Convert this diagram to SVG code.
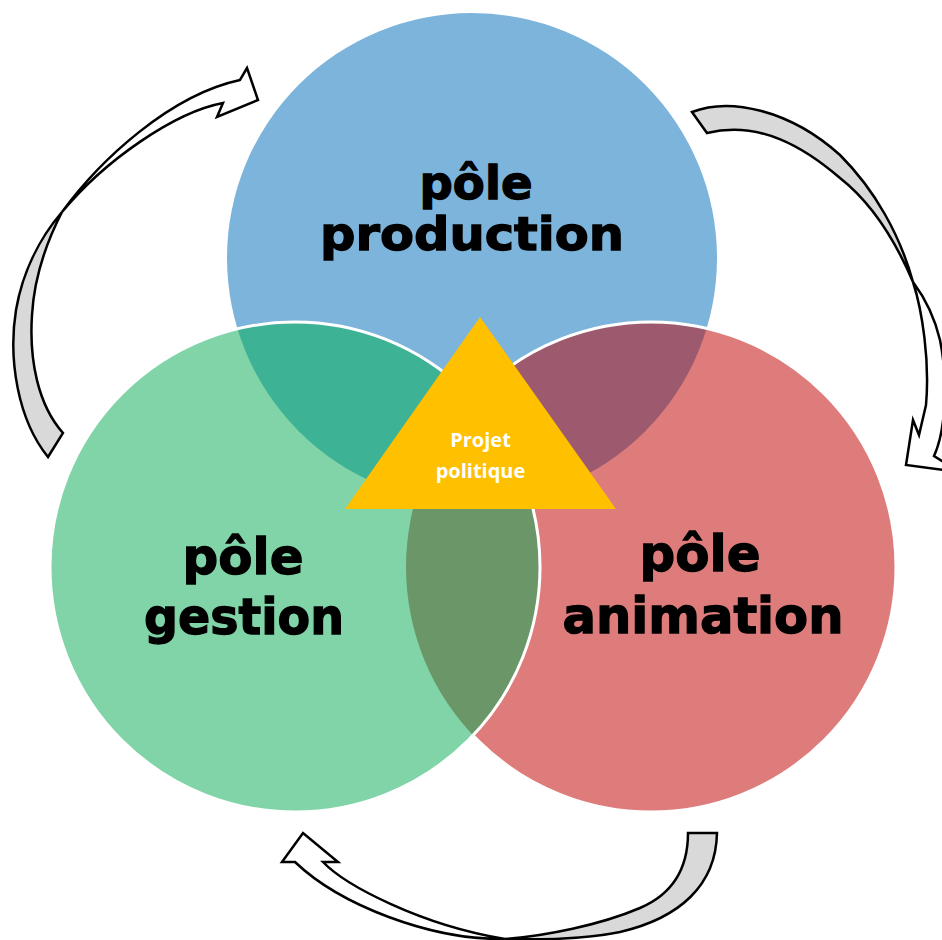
<svg xmlns="http://www.w3.org/2000/svg" width="942" height="940" viewBox="0 0 942 940">
  <style>
    .arrow-gray { fill: #D9D9D9; stroke: #000; stroke-width: 2.5; stroke-linejoin: miter; }
    .arrow-white { fill: #FFFFFF; stroke: #000; stroke-width: 2.5; stroke-linejoin: miter; }
    .big { font-family: "DejaVu Sans", "Liberation Sans", sans-serif; font-weight: bold; fill: #000; stroke: #000; stroke-width: 1.3; text-anchor: middle; }
    .small { font-family: "Open Sans", "Liberation Sans", sans-serif; font-weight: bold; fill: #FFFFFF; text-anchor: middle; font-size: 20px; }
    .edge { fill: none; stroke: #FFFFFF; stroke-width: 3; }
  </style>
  <defs>
    <clipPath id="clipBlue"><circle cx="472" cy="258" r="245"/></clipPath>
    <clipPath id="clipGreen"><circle cx="295" cy="567" r="245"/></clipPath>
  </defs>
  <rect width="942" height="940" fill="#FFFFFF"/>

  <g id="pole-production">
    <circle cx="472" cy="258" r="245" fill="#7DB4DC"/>
  </g>
  <g id="pole-animation">
    <circle cx="651" cy="567" r="245" fill="#DE7C7C"/>
    <circle cx="651" cy="567" r="245" fill="#9D5A6E" clip-path="url(#clipBlue)"/>
    <circle cx="651" cy="567" r="245" class="edge"/>
  </g>
  <g id="pole-gestion">
    <circle cx="295" cy="567" r="245" fill="#80D4A8"/>
    <circle cx="295" cy="567" r="245" fill="#3EB294" clip-path="url(#clipBlue)"/>
    <g clip-path="url(#clipGreen)">
      <circle cx="651" cy="567" r="245" fill="#6A9668"/>
    </g>
    <circle cx="295" cy="567" r="245" class="edge"/>
  </g>

  <g id="labels">
    <text class="big" x="476" y="199" font-size="47" textLength="113" lengthAdjust="spacingAndGlyphs">pôle</text>
    <text class="big" x="472" y="250" font-size="47" textLength="304" lengthAdjust="spacingAndGlyphs">production</text>
    <text class="big" x="243" y="574" font-size="50" textLength="121" lengthAdjust="spacingAndGlyphs">pôle</text>
    <text class="big" x="244" y="634" font-size="50" textLength="200" lengthAdjust="spacingAndGlyphs">gestion</text>
    <text class="big" x="700" y="571" font-size="50" textLength="121" lengthAdjust="spacingAndGlyphs">pôle</text>
    <text class="big" x="703" y="633" font-size="50" textLength="281" lengthAdjust="spacingAndGlyphs">animation</text>
  </g>

  <g id="projet-politique">
    <polygon points="480,317 616,509 345,509" fill="#FFC000"/>
    <text class="small" x="480.5" y="447">Projet</text>
    <text class="small" x="480.5" y="478">politique</text>
  </g>

  <g id="connectors">
    <g id="arrow-gestion-production">
      <path class="arrow-gray" d="M48,457 C18,420 8,360 16,310 C22,275 38,240 62,212 C45,245 34,280 32,315 C29,360 38,405 63,433 Z"/>
      <path class="arrow-white" d="M62,212 C100,160 170,95 240,80 L247,68 L258,100 L217,117 L223,103 C175,112 105,160 62,212 Z"/>
    </g>
    <g id="arrow-production-animation">
      <path class="arrow-gray" d="M692,112 C730,97 790,110 840,155 C875,190 900,235 913,282 C893,235 868,200 840,178 C805,148 760,120 707,133 Z"/>
      <path class="arrow-white" d="M913,282 C922,310 930,360 926,405 L919,435 L913,420 L906,465 L960,472 L934,456 C946,430 948,380 940,340 C934,315 925,298 913,282 Z"/>
    </g>
    <g id="arrow-animation-gestion">
      <path class="arrow-gray" d="M717,833 C716,885 680,918 620,932 C580,940 540,940 505,939 C545,936 600,925 640,908 C675,893 688,865 688,833 Z"/>
      <path class="arrow-white" d="M505,939 C430,940 340,905 295,862 L282,862 L303,833 L338,862 L323,862 C345,885 420,925 505,939 Z"/>
    </g>
  </g>
</svg>
